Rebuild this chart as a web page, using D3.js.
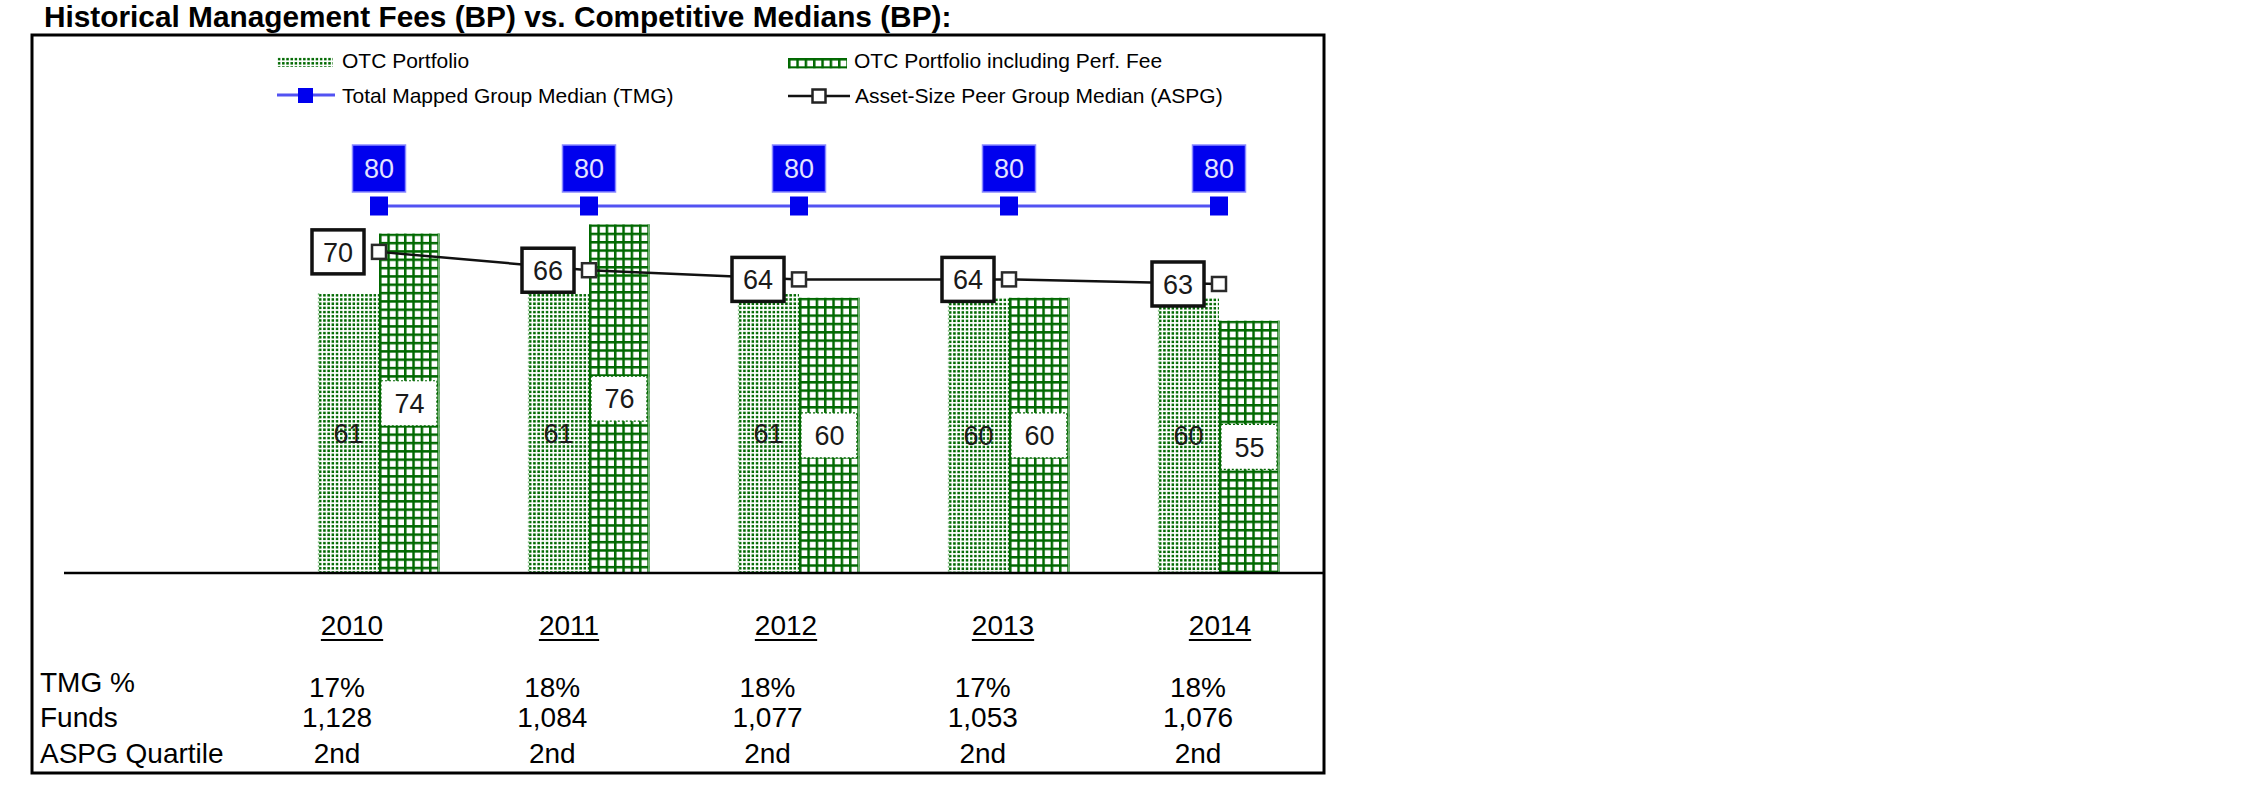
<!DOCTYPE html>
<html><head><meta charset="utf-8">
<script src="https://cdn.jsdelivr.net/npm/d3@7"></script>
<style>
html,body{margin:0;padding:0;background:#fff;}
svg{display:block;}
text{font-family:"Liberation Sans", Arial, Helvetica, sans-serif;}
</style></head><body>
<svg id="chart" width="2251" height="798"></svg>
<script>
// ---------------- data ----------------
const years = ["2010", "2011", "2012", "2013", "2014"];
const otcPortfolio = [61, 61, 61, 60, 60];
const otcPerfFee = [74, 76, 60, 60, 55];
const tmgMedian = [80, 80, 80, 80, 80];
const aspgMedian = [70, 66, 64, 64, 63];
const tmgPct = ["17%", "18%", "18%", "17%", "18%"];
const funds = ["1,128", "1,084", "1,077", "1,053", "1,076"];
const aspgQuartile = ["2nd", "2nd", "2nd", "2nd", "2nd"];
const rowLabels = ["TMG %", "Funds", "ASPG Quartile"];
const seriesNames = ["OTC Portfolio", "OTC Portfolio including Perf. Fee",
  "Total Mapped Group Median (TMG)", "Asset-Size Peer Group Median (ASPG)"];
const titleText = "Historical Management Fees (BP) vs. Competitive Medians (BP):";

// ---------------- setup ----------------
const svg = d3.select("#chart");
const defs = svg.append("defs");
const GREEN = "#006800";
const BLUE = "#0000ee";
const BLUE_LINE = "#5252f2";

const x = d3.scaleBand().domain(years).range([274, 1324]).paddingInner(0.42).paddingOuter(0.21);
const x1 = d3.scaleBand().domain(["otc", "perf"]).range([0, x.bandwidth()]);
const y = d3.scaleLinear().domain([0, 80]).range([573, 206]);
const cx = d => x(d) + x.bandwidth() / 2;

function dotPattern(id, px, py) {
  const p = defs.append("pattern").attr("id", id).attr("patternUnits", "userSpaceOnUse")
    .attr("x", px).attr("y", py).attr("width", 4.2).attr("height", 4.2);
  p.append("rect").attr("x", 0.9).attr("y", 0.9).attr("width", 2.5).attr("height", 2.5).attr("fill", GREEN);
}
function gridPattern(id, px, py) {
  const s = 8.33;
  const p = defs.append("pattern").attr("id", id).attr("patternUnits", "userSpaceOnUse")
    .attr("x", px).attr("y", py).attr("width", s).attr("height", s);
  p.append("rect").attr("x", 0).attr("y", 0).attr("width", 2.5).attr("height", s).attr("fill", GREEN);
  p.append("rect").attr("x", 0).attr("y", 0).attr("width", s).attr("height", 2.5).attr("fill", GREEN);
}

// ---------------- title & frame ----------------
svg.append("text").attr("x", 44).attr("y", 27).attr("font-size", 29.8).attr("font-weight", "bold")
  .attr("fill", "#000").text(titleText);
svg.append("rect").attr("x", 32).attr("y", 35).attr("width", 1292).attr("height", 738)
  .attr("fill", "none").attr("stroke", "#000").attr("stroke-width", 3);

// ---------------- legend ----------------
const lg = svg.append("g");
dotPattern("lgOtc", 277, 57);
lg.append("rect").attr("x", 277).attr("y", 57).attr("width", 56).attr("height", 10).attr("fill", "url(#lgOtc)");
lg.append("text").attr("x", 342).attr("y", 68).attr("font-size", 21).text(seriesNames[0]);
gridPattern("lgPerf", 788, 58);
lg.append("rect").attr("x", 788).attr("y", 58).attr("width", 59).attr("height", 10.5).attr("fill", "url(#lgPerf)");
lg.append("text").attr("x", 854).attr("y", 68).attr("font-size", 21).text(seriesNames[1]);
lg.append("line").attr("x1", 277).attr("x2", 335).attr("y1", 95).attr("y2", 95)
  .attr("stroke", BLUE_LINE).attr("stroke-width", 3);
lg.append("rect").attr("x", 298).attr("y", 88).attr("width", 15).attr("height", 15).attr("fill", BLUE);
lg.append("text").attr("x", 342).attr("y", 103).attr("font-size", 21).text(seriesNames[2]);
lg.append("line").attr("x1", 788).attr("x2", 850).attr("y1", 96).attr("y2", 96)
  .attr("stroke", "#111").attr("stroke-width", 2.5);
lg.append("rect").attr("x", 812.5).attr("y", 89.5).attr("width", 13).attr("height", 13)
  .attr("fill", "#fff").attr("stroke", "#222").attr("stroke-width", 2.5);
lg.append("text").attr("x", 855).attr("y", 103).attr("font-size", 21).text(seriesNames[3]);

// ---------------- bars ----------------
const barData = [];
years.forEach((yr, i) => {
  barData.push({ yr, key: "otc", v: otcPortfolio[i], i });
  barData.push({ yr, key: "perf", v: otcPerfFee[i], i });
});
barData.forEach(d => {
  d.x = x(d.yr) + x1(d.key);
  d.w = x1.bandwidth();
  d.y = y(d.v);
  d.h = y(0) - y(d.v);
  d.pid = "pat_" + d.key + "_" + d.i;
  if (d.key === "otc") dotPattern(d.pid, d.x, d.y); else gridPattern(d.pid, d.x, d.y);
});
svg.append("g").selectAll("rect").data(barData).join("rect")
  .attr("x", d => d.x).attr("y", d => d.y).attr("width", d => d.w).attr("height", d => d.h)
  .attr("fill", d => `url(#${d.pid})`);
// light edges
svg.append("g").selectAll("line").data(barData).join("line")
  .attr("x1", d => d.key === "otc" ? d.x + 0.5 : d.x + d.w - 1)
  .attr("x2", d => d.key === "otc" ? d.x + 0.5 : d.x + d.w - 1)
  .attr("y1", d => d.y).attr("y2", d => d.y + d.h)
  .attr("stroke", "#86c086").attr("stroke-width", 1.5)
  .attr("stroke-dasharray", d => d.key === "otc" ? "2,2" : null);

// bar value labels
const barLab = svg.append("g");
barData.filter(d => d.key === "perf").forEach(d => {
  const mid = d.y + d.h / 2;
  barLab.append("rect").attr("x", d.x + 2).attr("y", mid - 22.5).attr("width", d.w - 5).attr("height", 45)
    .attr("fill", "#fff").attr("stroke", GREEN).attr("stroke-width", 1.2).attr("stroke-dasharray", "2,2");
});
barLab.selectAll("text").data(barData).join("text")
  .attr("x", d => d.x + d.w / 2).attr("y", d => d.y + d.h / 2).attr("dy", "0.36em")
  .attr("text-anchor", "middle").attr("font-size", 27).attr("fill", "#1a1a1a")
  .text(d => d.v);

// ---------------- TMG line ----------------
const tmgPts = years.map((yr, i) => ({ yr, v: tmgMedian[i] }));
svg.append("path").datum(tmgPts)
  .attr("d", d3.line().x(d => cx(d.yr)).y(d => y(d.v)))
  .attr("fill", "none").attr("stroke", BLUE_LINE).attr("stroke-width", 3);
svg.append("g").selectAll("rect").data(tmgPts).join("rect")
  .attr("x", d => cx(d.yr) - 9).attr("y", d => y(d.v) - 9.5).attr("width", 18).attr("height", 19)
  .attr("fill", BLUE);
const tmgLab = svg.append("g").selectAll("g").data(tmgPts).join("g")
  .attr("transform", d => `translate(${cx(d.yr)},${y(d.v) - 37.5})`);
tmgLab.append("rect").attr("x", -26.5).attr("y", -23.5).attr("width", 53).attr("height", 47)
  .attr("fill", BLUE).attr("stroke", "#8a8aff").attr("stroke-width", 1.5);
tmgLab.append("text").attr("text-anchor", "middle").attr("dy", "0.36em").attr("font-size", 27)
  .attr("fill", "#e4e4ff").text(d => d.v);

// ---------------- ASPG line ----------------
const aspgPts = years.map((yr, i) => ({ yr, v: aspgMedian[i] }));
svg.append("path").datum(aspgPts)
  .attr("d", d3.line().x(d => cx(d.yr)).y(d => y(d.v)))
  .attr("fill", "none").attr("stroke", "#111").attr("stroke-width", 2.5);
svg.append("g").selectAll("rect").data(aspgPts).join("rect")
  .attr("x", d => cx(d.yr) - 7).attr("y", d => y(d.v) - 7).attr("width", 14).attr("height", 14)
  .attr("fill", "#fff").attr("stroke", "#2a2a2a").attr("stroke-width", 2.5);
const aspgLab = svg.append("g").selectAll("g").data(aspgPts).join("g")
  .attr("transform", d => `translate(${cx(d.yr) - 41},${y(d.v)})`);
aspgLab.append("rect").attr("x", -26).attr("y", -22).attr("width", 52).attr("height", 44)
  .attr("fill", "#fff").attr("stroke", "#111").attr("stroke-width", 3.5);
aspgLab.append("text").attr("text-anchor", "middle").attr("dy", "0.36em").attr("font-size", 27)
  .attr("fill", "#1a1a1a").text(d => d.v);

// ---------------- baseline axis ----------------
svg.append("line").attr("x1", 64).attr("x2", 1324).attr("y1", y(0)).attr("y2", y(0))
  .attr("stroke", "#000").attr("stroke-width", 2.5);

// ---------------- table ----------------
const xh = d3.scalePoint().domain(years).range([352, 1220]);
const xv = d3.scalePoint().domain(years).range([337, 1198]);
const tbl = svg.append("g").attr("font-size", 28).attr("fill", "#000");
const hdr = tbl.selectAll("g.hdr").data(years).join("g").attr("class", "hdr");
hdr.append("text").attr("x", d => xh(d)).attr("y", 635).attr("text-anchor", "middle").text(d => d);
hdr.each(function (d) {
  const t = d3.select(this).select("text").node().getBBox();
  d3.select(this).append("line").attr("x1", t.x).attr("x2", t.x + t.width)
    .attr("y1", 640).attr("y2", 640).attr("stroke", "#000").attr("stroke-width", 2);
});
const rowBase = [692, 727, 763];
const valBase = [697, 727, 763];
tbl.selectAll("text.rl").data(rowLabels).join("text").attr("class", "rl")
  .attr("x", 40).attr("y", (d, i) => rowBase[i]).text(d => d);
[tmgPct, funds, aspgQuartile].forEach((row, r) => {
  tbl.selectAll("text.v" + r).data(row).join("text").attr("class", "v" + r)
    .attr("x", (d, i) => xv(years[i])).attr("y", valBase[r]).attr("text-anchor", "middle").text(d => d);
});
</script>
</body></html>
